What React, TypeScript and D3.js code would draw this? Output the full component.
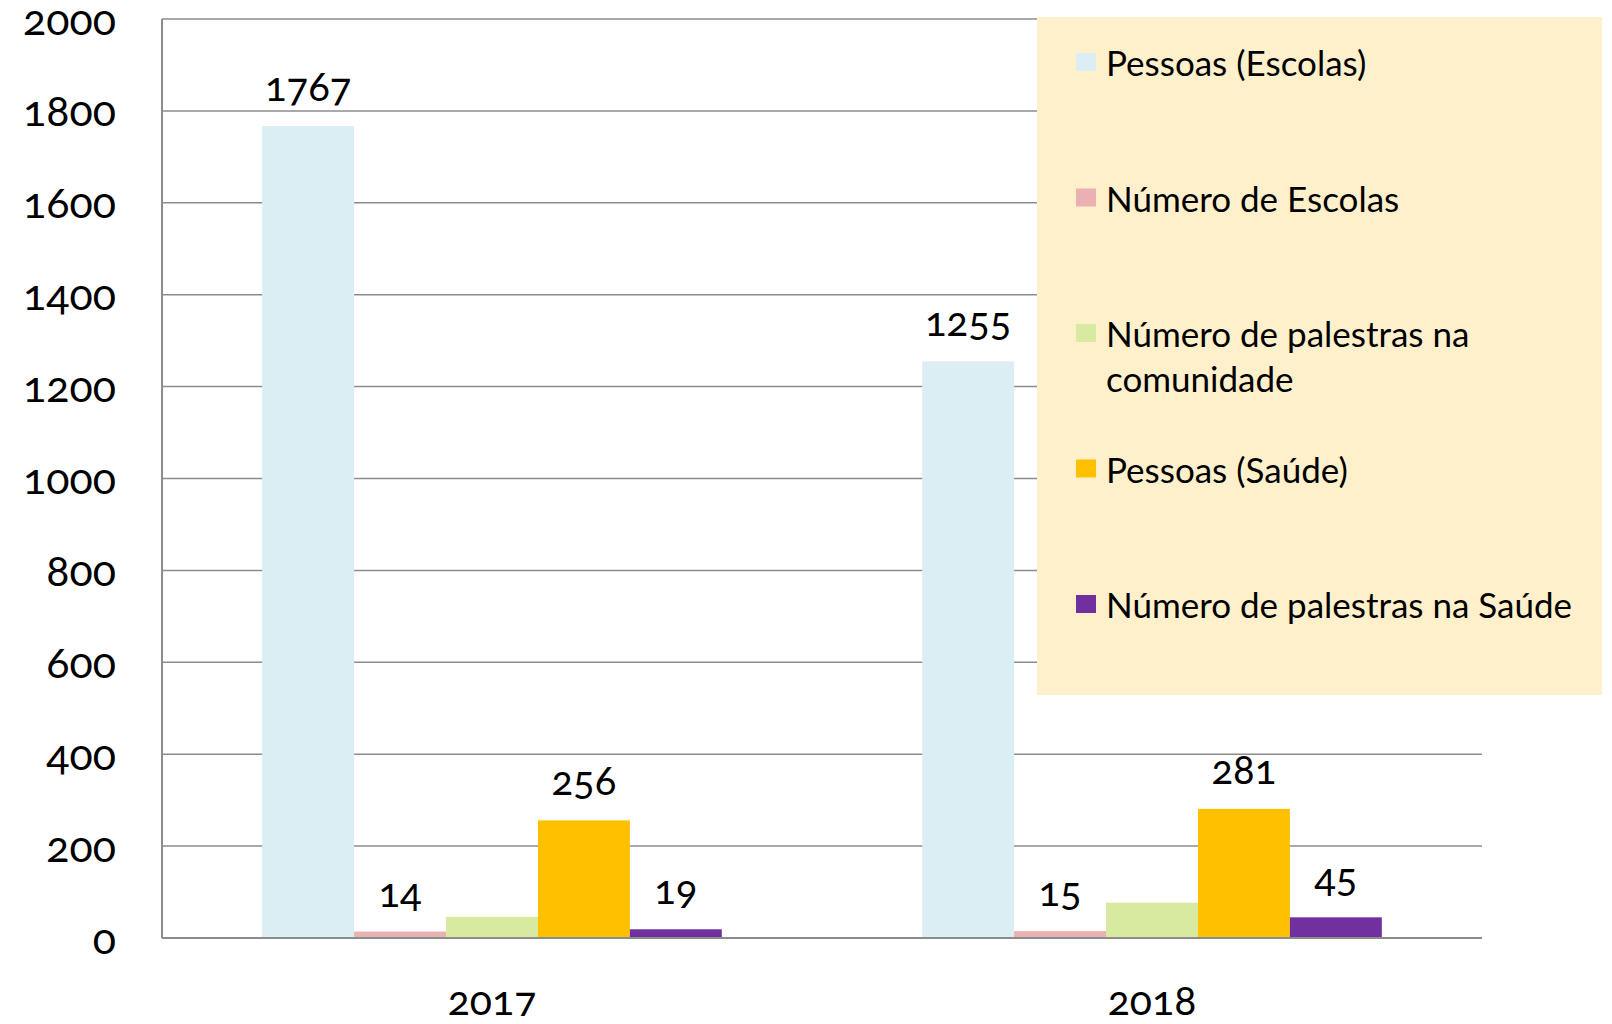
import { useEffect, useRef } from 'react';
import * as d3 from 'd3';

const years = ['2017', '2018'];
const seriesNames = [
  'Pessoas (Escolas)',
  'Número de Escolas',
  'Número de palestras na comunidade',
  'Pessoas (Saúde)',
  'Número de palestras na Saúde',
];
const seriesColors = ['#daeef3', '#ebb0b1', '#d7eaa0', '#ffc000', '#7030a0'];
const values2017 = [1767, 14, 46, 256, 19];
const values2018 = [1255, 15, 77, 281, 45];
// only some bars carry a label in the original
const labelled = [true, true, false, true, true];
const yTicks = [0, 200, 400, 600, 800, 1000, 1200, 1400, 1600, 1800, 2000];
// legend text split as in the picture
const legendLines = [
  ['Pessoas (Escolas)'],
  ['Número de Escolas'],
  ['Número de palestras na', 'comunidade'],
  ['Pessoas (Saúde)'],
  ['Número de palestras na Saúde'],
];

const W = 1596;
const H = 1008;
const FONT = 'Lato, "Open Sans", sans-serif';

export default function App() {
  const svgRef = useRef<SVGSVGElement>(null);

  useEffect(() => {
    if (!svgRef.current) return;
    const svg = d3.select(svgRef.current);
    svg.selectAll('*').remove();

    // page offset is 8px (body margin)
    const left = 154, right = 1474, top = 11, bottom = 930;

    const x0 = d3.scaleBand<string>().domain(years).range([left, right]);
    const x1 = d3.scaleBand<number>()
      .domain(d3.range(seriesNames.length))
      .range([0, x0.bandwidth()])
      .paddingOuter(1.09)
      .paddingInner(0);
    const y = d3.scaleLinear().domain([0, 2000]).range([bottom, top]);

    const g = svg.append('g')
      .style('font-family', FONT)
      .style('font-variant-numeric', 'oldstyle-nums');

    // gridlines
    g.append('g')
      .selectAll('line')
      .data(yTicks.slice(1))
      .join('line')
      .attr('x1', left)
      .attr('x2', right)
      .attr('y1', (d) => y(d))
      .attr('y2', (d) => y(d))
      .attr('stroke', '#8c8c8c')
      .attr('stroke-width', 1.5);

    // tick labels
    g.append('g')
      .selectAll('text')
      .data(yTicks)
      .join('text')
      .attr('x', 108)
      .attr('y', (d) => y(d) - 1)
      .attr('text-anchor', 'end')
      .attr('dominant-baseline', 'central')
      .style('font-size', '43px')
      .attr('fill', '#000')
      .text((d) => String(d));

    const rows = [values2017, values2018];

    // bars
    const groups = g.append('g')
      .selectAll('g')
      .data(years)
      .join('g')
      .attr('transform', (d) => `translate(${x0(d)},0)`);

    groups.selectAll('rect')
      .data((d, i) => rows[i].map((v, j) => ({ v, j })))
      .join('rect')
      .attr('x', (d) => x1(d.j)!)
      .attr('width', x1.bandwidth())
      .attr('y', (d) => y(d.v))
      .attr('height', (d) => bottom - y(d.v))
      .attr('fill', (d) => seriesColors[d.j]);

    groups.selectAll('text')
      .data((d, i) => rows[i].map((v, j) => ({ v, j })).filter((d) => labelled[d.j]))
      .join('text')
      .attr('x', (d) => x1(d.j)! + x1.bandwidth() / 2)
      .attr('y', (d) => y(d.v) - 25)
      .attr('text-anchor', 'middle')
      .style('font-size', '40px')
      .attr('fill', '#000')
      .text((d) => String(d.v));

    // axes lines
    g.append('line')
      .attr('x1', left).attr('x2', left)
      .attr('y1', top).attr('y2', bottom)
      .attr('stroke', '#8c8c8c').attr('stroke-width', 2);
    g.append('line')
      .attr('x1', left).attr('x2', right)
      .attr('y1', bottom).attr('y2', bottom)
      .attr('stroke', '#8c8c8c').attr('stroke-width', 2);

    // category labels
    g.append('g')
      .selectAll('text')
      .data(years)
      .join('text')
      .attr('x', (d) => x0(d)! + x0.bandwidth() / 2)
      .attr('y', 1007)
      .attr('text-anchor', 'middle')
      .style('font-size', '41px')
      .attr('fill', '#000')
      .text((d) => d);

    // legend
    const lg = g.append('g');
    lg.append('rect')
      .attr('x', 1029)
      .attr('y', 9)
      .attr('width', 565)
      .attr('height', 678)
      .attr('fill', '#fff0cc');

    const ly = d3.scalePoint<number>()
      .domain(d3.range(seriesNames.length))
      .range([54, 596]);

    const items = lg.selectAll('g')
      .data(seriesNames)
      .join('g')
      .attr('transform', (d, i) => `translate(1068,${ly(i)})`);

    items.append('rect')
      .attr('x', 0)
      .attr('y', -9)
      .attr('width', 20)
      .attr('height', 18)
      .attr('fill', (d, i) => seriesColors[i]);

    items.each(function (d, i) {
      const t = d3.select(this);
      legendLines[i].forEach((line, k) => {
        t.append('text')
          .attr('x', 30)
          .attr('y', k * 45)
          .attr('dominant-baseline', 'central')
          .style('font-size', '35px')
          .attr('fill', '#000')
          .text(line);
      });
    });
  }, []);

  return <svg ref={svgRef} width={W} height={H} style={{ display: 'block', overflow: 'visible' }} />;
}
